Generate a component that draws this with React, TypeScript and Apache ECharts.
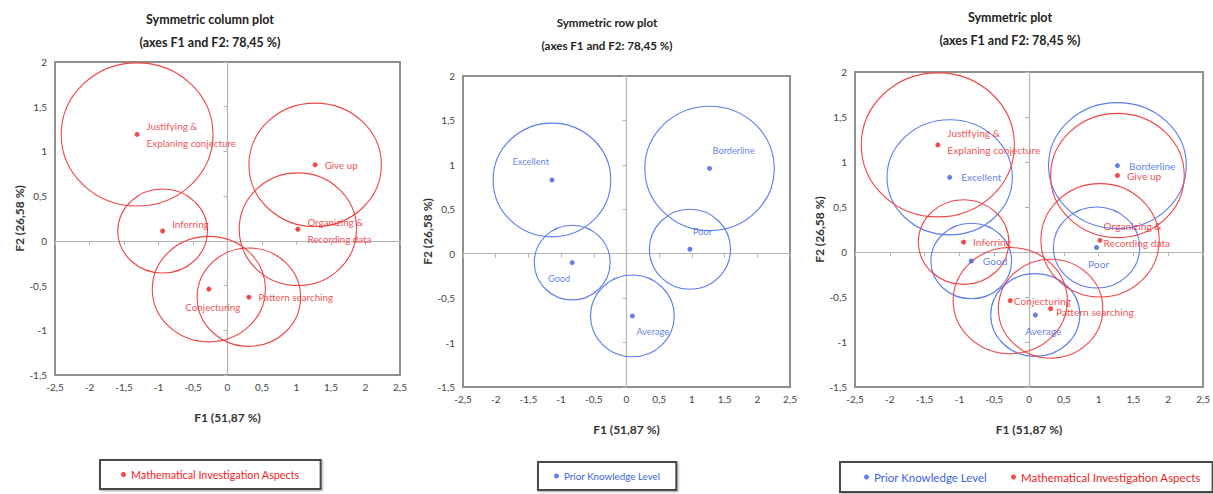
import React, { useEffect, useRef } from "react";
import * as echarts from "echarts";

const FONT = "Lato, 'Liberation Sans', sans-serif";

// Mathematical Investigation Aspects (columns)
const ASPECT_NAMES = [
  "Justifying &\nExplaning conjecture",
  "Give up",
  "Inferring",
  "Organizing &\nRecording data",
  "Conjecturing",
  "Pattern searching",
];
const ASPECT_F1 = [-1.31, 1.27, -0.94, 1.02, -0.27, 0.31];
const ASPECT_F2 = [1.19, 0.85, 0.11, 0.13, -0.54, -0.63];
const ASPECT_RX = [1.1, 0.96, 0.65, 0.85, 0.82, 0.75];
const ASPECT_RY = [0.8, 0.69, 0.47, 0.63, 0.59, 0.55];

// Prior Knowledge Level (rows)
const LEVEL_NAMES = ["Excellent", "Borderline", "Poor", "Good", "Average"];
const LEVEL_F1 = [-1.14, 1.27, 0.97, -0.83, 0.09];
const LEVEL_F2 = [0.83, 0.96, 0.05, -0.1, -0.7];
const LEVEL_RX = [0.9, 0.99, 0.62, 0.58, 0.64];
const LEVEL_RY = [0.64, 0.7, 0.45, 0.42, 0.46];

const X_MIN = -2.5;
const X_MAX = 2.5;
const Y_MIN = -1.5;
const Y_MAX = 2;
const TICK_STEP = 0.5;

const TITLES = ["Symmetric column plot", "Symmetric row plot", "Symmetric plot"];
const SUBTITLE = "(axes F1 and F2: 78,45 %)";
const X_NAME = "F1 (51,87 %)";
const Y_NAME = "F2 (26,58 %)";
const ASPECT_SERIES = "Mathematical Investigation Aspects";
const LEVEL_SERIES = "Prior Knowledge Level";

const RED = "#f01c1c";
const RED_LINE = "#f04444";
const BLUE = "#3a5fe8";
const BLUE_LINE = "#5a7cf0";

// layout (style only)
const GRIDS = [
  { left: 55, top: 62, width: 345, height: 313, titleX: 210, titleY: 8, titleSize: 12.5, labelSize: 9.8, yNameGap: 30 },
  { left: 463, top: 76, width: 327, height: 311, titleX: 607, titleY: 11, titleSize: 11.6, labelSize: 9.2, yNameGap: 26 },
  { left: 855, top: 72, width: 352, height: 315, titleX: 1010, titleY: 6, titleSize: 12.5, labelSize: 10.2, yNameGap: 28 },
];

type Place = { position: string; align?: string; offset?: number[] };
const ASPECT_PLACE: Place[][] = [
  [
    { position: "right", offset: [2, 0] },
    { position: "right", offset: [2, 0] },
    { position: "right", offset: [2, -7] },
    { position: "right", offset: [2, 1] },
    { position: "bottom", offset: [4, 2] },
    { position: "right", offset: [2, 0] },
  ],
  [],
  [
    { position: "right", offset: [2, -3] },
    { position: "right", offset: [2, 0] },
    { position: "right", offset: [2, 0] },
    { position: "right", offset: [-4, -6] },
    { position: "right", offset: [-4, 0] },
    { position: "right", offset: [-2, 3] },
  ],
];
const LEVEL_PLACE: Place[][] = [
  [],
  [
    { position: "top", align: "right", offset: [-3, -2] },
    { position: "top", align: "left", offset: [3, -2] },
    { position: "top", align: "left", offset: [3, -2] },
    { position: "bottom", align: "right", offset: [-2, 0] },
    { position: "bottom", align: "left", offset: [4, 0] },
  ],
  [
    { position: "right", offset: [4, 0] },
    { position: "right", offset: [4, 0] },
    { position: "bottom", offset: [2, 0] },
    { position: "right", offset: [4, 0] },
    { position: "bottom", offset: [8, 0] },
  ],
];

const fmt = (v: number) => String(v).replace(".", ",");

function ellipseSeries(name: string, axisIdx: number, data: number[][], color: string) {
  return {
    type: "custom",
    name,
    xAxisIndex: axisIdx,
    yAxisIndex: axisIdx,
    data,
    silent: true,
    clip: false,
    z: 1,
    renderItem: (_params: any, api: any) => {
      const c = api.coord([api.value(0), api.value(1)]);
      const s = api.size([api.value(2), api.value(3)]);
      return {
        type: "ellipse",
        shape: { cx: c[0], cy: c[1], rx: s[0], ry: s[1] },
        style: { fill: "none", stroke: color, lineWidth: 1.1 },
      };
    },
  };
}

function pointSeries(
  name: string,
  axisIdx: number,
  names: string[],
  xs: number[],
  ys: number[],
  places: Place[],
  color: string,
  fontSize: number
) {
  return {
    type: "scatter",
    name,
    xAxisIndex: axisIdx,
    yAxisIndex: axisIdx,
    symbol: "circle",
    symbolSize: 5,
    z: 3,
    itemStyle: { color },
    label: {
      show: true,
      formatter: "{b}",
      color,
      fontFamily: FONT,
      fontSize,
      lineHeight: 17,
      distance: 5,
    },
    data: names.map((n, i) => ({
      name: n,
      value: [xs[i], ys[i]],
      label: places[i] || {},
    })),
  };
}

export default function App() {
  const ref = useRef<HTMLDivElement>(null);

  useEffect(() => {
    if (!ref.current) return;
    const chart = echarts.init(ref.current, null, { renderer: "svg" });

    const grid = GRIDS.map((g) => ({
      left: g.left,
      top: g.top,
      width: g.width,
      height: g.height,
      show: true,
      borderColor: "#8f8f8f",
      borderWidth: 2,
      backgroundColor: "transparent",
    }));

    const xAxis: any[] = [];
    const yAxis: any[] = [];
    GRIDS.forEach((g, i) => {
      xAxis.push({
        gridIndex: i,
        type: "value",
        min: X_MIN,
        max: X_MAX,
        interval: TICK_STEP,
        axisLine: { show: false, onZero: false },
        axisTick: { show: false },
        splitLine: { show: false },
        axisLabel: { formatter: fmt, fontFamily: FONT, fontSize: 10, color: "#444", margin: 7 },
        name: X_NAME,
        nameLocation: "middle",
        nameGap: 36,
        nameTextStyle: { fontFamily: FONT, fontSize: 12, fontWeight: "bold", color: "#333" },
      });
      xAxis.push({
        gridIndex: i,
        type: "value",
        min: X_MIN,
        max: X_MAX,
        interval: TICK_STEP,
        position: "bottom",
        axisLine: { show: true, onZero: true, lineStyle: { color: "#b4b4b4", width: 1.2 } },
        axisTick: { show: true, length: 4, lineStyle: { color: "#b4b4b4" } },
        axisLabel: { show: false },
        splitLine: { show: false },
      });
      yAxis.push({
        gridIndex: i,
        type: "value",
        min: Y_MIN,
        max: Y_MAX,
        interval: TICK_STEP,
        axisLine: { show: false, onZero: false },
        axisTick: { show: false },
        splitLine: { show: false },
        axisLabel: { formatter: fmt, fontFamily: FONT, fontSize: 10, color: "#444", margin: 8 },
        name: Y_NAME,
        nameLocation: "middle",
        nameGap: g.yNameGap,
        nameRotate: 90,
        nameTextStyle: { fontFamily: FONT, fontSize: 12, fontWeight: "bold", color: "#333" },
      });
      yAxis.push({
        gridIndex: i,
        type: "value",
        min: Y_MIN,
        max: Y_MAX,
        interval: TICK_STEP,
        position: "left",
        axisLine: { show: true, onZero: true, lineStyle: { color: "#b4b4b4", width: 1.2 } },
        axisTick: { show: true, length: 4, lineStyle: { color: "#b4b4b4" } },
        axisLabel: { show: false },
        splitLine: { show: false },
      });
    });

    const aspectEllipses = ASPECT_NAMES.map((_, i) => [ASPECT_F1[i], ASPECT_F2[i], ASPECT_RX[i], ASPECT_RY[i]]);
    const levelEllipses = LEVEL_NAMES.map((_, i) => [LEVEL_F1[i], LEVEL_F2[i], LEVEL_RX[i], LEVEL_RY[i]]);

    const series: any[] = [
      ellipseSeries("aspect-ellipses-1", 0, aspectEllipses, RED_LINE),
      pointSeries(ASPECT_SERIES, 0, ASPECT_NAMES, ASPECT_F1, ASPECT_F2, ASPECT_PLACE[0], RED, GRIDS[0].labelSize),
      ellipseSeries("level-ellipses-2", 2, levelEllipses, BLUE_LINE),
      pointSeries(LEVEL_SERIES, 2, LEVEL_NAMES, LEVEL_F1, LEVEL_F2, LEVEL_PLACE[1], BLUE, GRIDS[1].labelSize),
      ellipseSeries("level-ellipses-3", 4, levelEllipses, BLUE_LINE),
      ellipseSeries("aspect-ellipses-3", 4, aspectEllipses, RED_LINE),
      pointSeries(LEVEL_SERIES, 4, LEVEL_NAMES, LEVEL_F1, LEVEL_F2, LEVEL_PLACE[2], BLUE, GRIDS[2].labelSize),
      pointSeries(ASPECT_SERIES, 4, ASPECT_NAMES, ASPECT_F1, ASPECT_F2, ASPECT_PLACE[2], RED, GRIDS[2].labelSize),
    ];

    const legendBase = {
      orient: "horizontal",
      icon: "circle",
      itemWidth: 5,
      itemHeight: 5,
      itemGap: 24,
      borderColor: "#4a4a4a",
      borderWidth: 2,
      shadowColor: "rgba(0,0,0,0.35)",
      shadowBlur: 2,
      shadowOffsetX: 1,
      shadowOffsetY: 1,
      backgroundColor: "#fff",
      selectedMode: false,
    };

    const legend = [
      {
        ...legendBase,
        left: 100,
        top: 460,
        padding: [9, 21, 9, 21],
        textStyle: { fontFamily: FONT, fontSize: 10.8 },
        data: [{ name: ASPECT_SERIES, textStyle: { color: RED } }],
      },
      {
        ...legendBase,
        left: 538,
        top: 462,
        padding: [9, 16, 9, 16],
        textStyle: { fontFamily: FONT, fontSize: 9.8 },
        data: [{ name: LEVEL_SERIES, textStyle: { color: BLUE } }],
      },
      {
        ...legendBase,
        left: 840,
        top: 462,
        padding: [9, 12, 9, 24],
        textStyle: { fontFamily: FONT, fontSize: 11.5 },
        data: [
          { name: LEVEL_SERIES, textStyle: { color: BLUE } },
          { name: ASPECT_SERIES, textStyle: { color: RED } },
        ],
      },
    ];

    const graphic = GRIDS.map((g, i) => ({
      type: "text",
      x: g.titleX,
      y: g.titleY,
      style: {
        text: TITLES[i] + "\n" + SUBTITLE,
        textAlign: "center",
        fill: "#222",
        font: `bold ${g.titleSize}px ${FONT}`,
        lineHeight: 23,
      },
    }));

    chart.setOption({
      animation: false,
      backgroundColor: "#fff",
      grid,
      xAxis,
      yAxis,
      series,
      legend,
      graphic,
    });

    return () => chart.dispose();
  }, []);

  return (
    <div
      ref={ref}
      style={{ position: "fixed", left: 0, top: 0, width: 1213, height: 494 }}
    />
  );
}
